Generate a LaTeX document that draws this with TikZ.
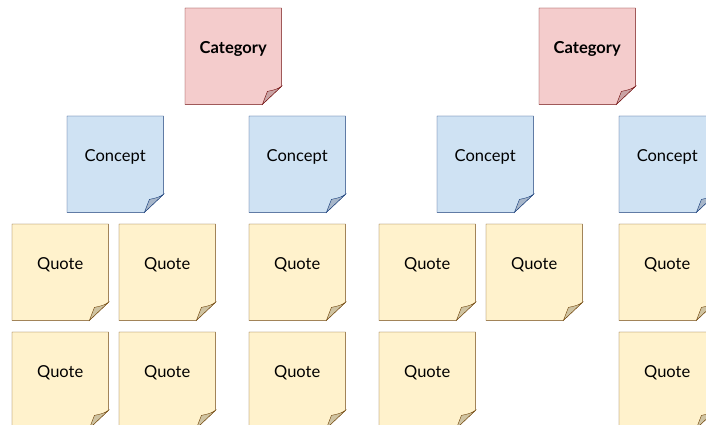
\documentclass[tikz,border=0pt]{standalone}
\usepackage{fontspec}
\setmainfont{Lato}
\definecolor{catfill}{HTML}{F4CCCC}
\definecolor{catdraw}{HTML}{700A0A}
\definecolor{catfold}{HTML}{C9A3A4}
\definecolor{confill}{HTML}{CFE2F3}
\definecolor{condraw}{HTML}{143A78}
\definecolor{confold}{HTML}{A7B6C9}
\definecolor{quofill}{HTML}{FFF2CC}
\definecolor{quodraw}{HTML}{70450A}
\definecolor{quofold}{HTML}{CFC3A1}
\tikzset{
  notebase/.style={minimum width=96pt, minimum height=96pt, inner sep=0pt, anchor=north west, draw=none},
  cat/.style={fill=catfill, draw=catdraw},
  catf/.style={fill=catfold, draw=catdraw},
  con/.style={fill=confill, draw=condraw},
  conf/.style={fill=confold, draw=condraw},
  quo/.style={fill=quofill, draw=quodraw},
  quof/.style={fill=quofold, draw=quodraw},
  notetext/.style={font=\fontsize{16.5}{18}\selectfont, inner sep=0pt},
  line join=miter, line width=1.1pt
}
% #1 name, #2 x, #3 y (top-left, px down), #4 style prefix, #5 text
\newcommand\stickynote[5]{%
  \node[notebase] (#1) at (#2pt,-#3pt) {};
  \path[#4] (#1.north west) -- (#1.north east) -- ([yshift=18pt]#1.south east)
     -- ([xshift=-19pt]#1.south east) -- (#1.south west) -- cycle;
  \path[#4f] ([yshift=18pt]#1.south east)
     .. controls ([xshift=-5pt,yshift=15pt]#1.south east) .. ([xshift=-14pt,yshift=13pt]#1.south east)
     .. controls ([xshift=-16pt,yshift=6pt]#1.south east) .. ([xshift=-19pt]#1.south east) -- cycle;
  \node[notetext] (#1t) at ([yshift=7pt]#1.center) {#5};
}
\begin{document}
\begin{tikzpicture}[x=1pt,y=1pt]
\clip (0,0) rectangle (706,-425);
% categories
\stickynote{cat1}{185}{8}{cat}{\bfseries Category}
\stickynote{cat2}{539}{8}{cat}{\bfseries Category}
% concepts
\stickynote{con1}{67}{116}{con}{Concept}
\stickynote{con2}{249}{116}{con}{Concept}
\stickynote{con3}{437}{116}{con}{Concept}
\stickynote{con4}{619}{116}{con}{Concept}
% quotes row 1
\stickynote{q11}{12}{224}{quo}{Quote}
\stickynote{q12}{119}{224}{quo}{Quote}
\stickynote{q13}{249}{224}{quo}{Quote}
\stickynote{q14}{379}{224}{quo}{Quote}
\stickynote{q15}{486}{224}{quo}{Quote}
\stickynote{q16}{619}{224}{quo}{Quote}
% quotes row 2
\stickynote{q21}{12}{332}{quo}{Quote}
\stickynote{q22}{119}{332}{quo}{Quote}
\stickynote{q23}{249}{332}{quo}{Quote}
\stickynote{q24}{379}{332}{quo}{Quote}
\stickynote{q26}{619}{332}{quo}{Quote}
\end{tikzpicture}
\end{document}
